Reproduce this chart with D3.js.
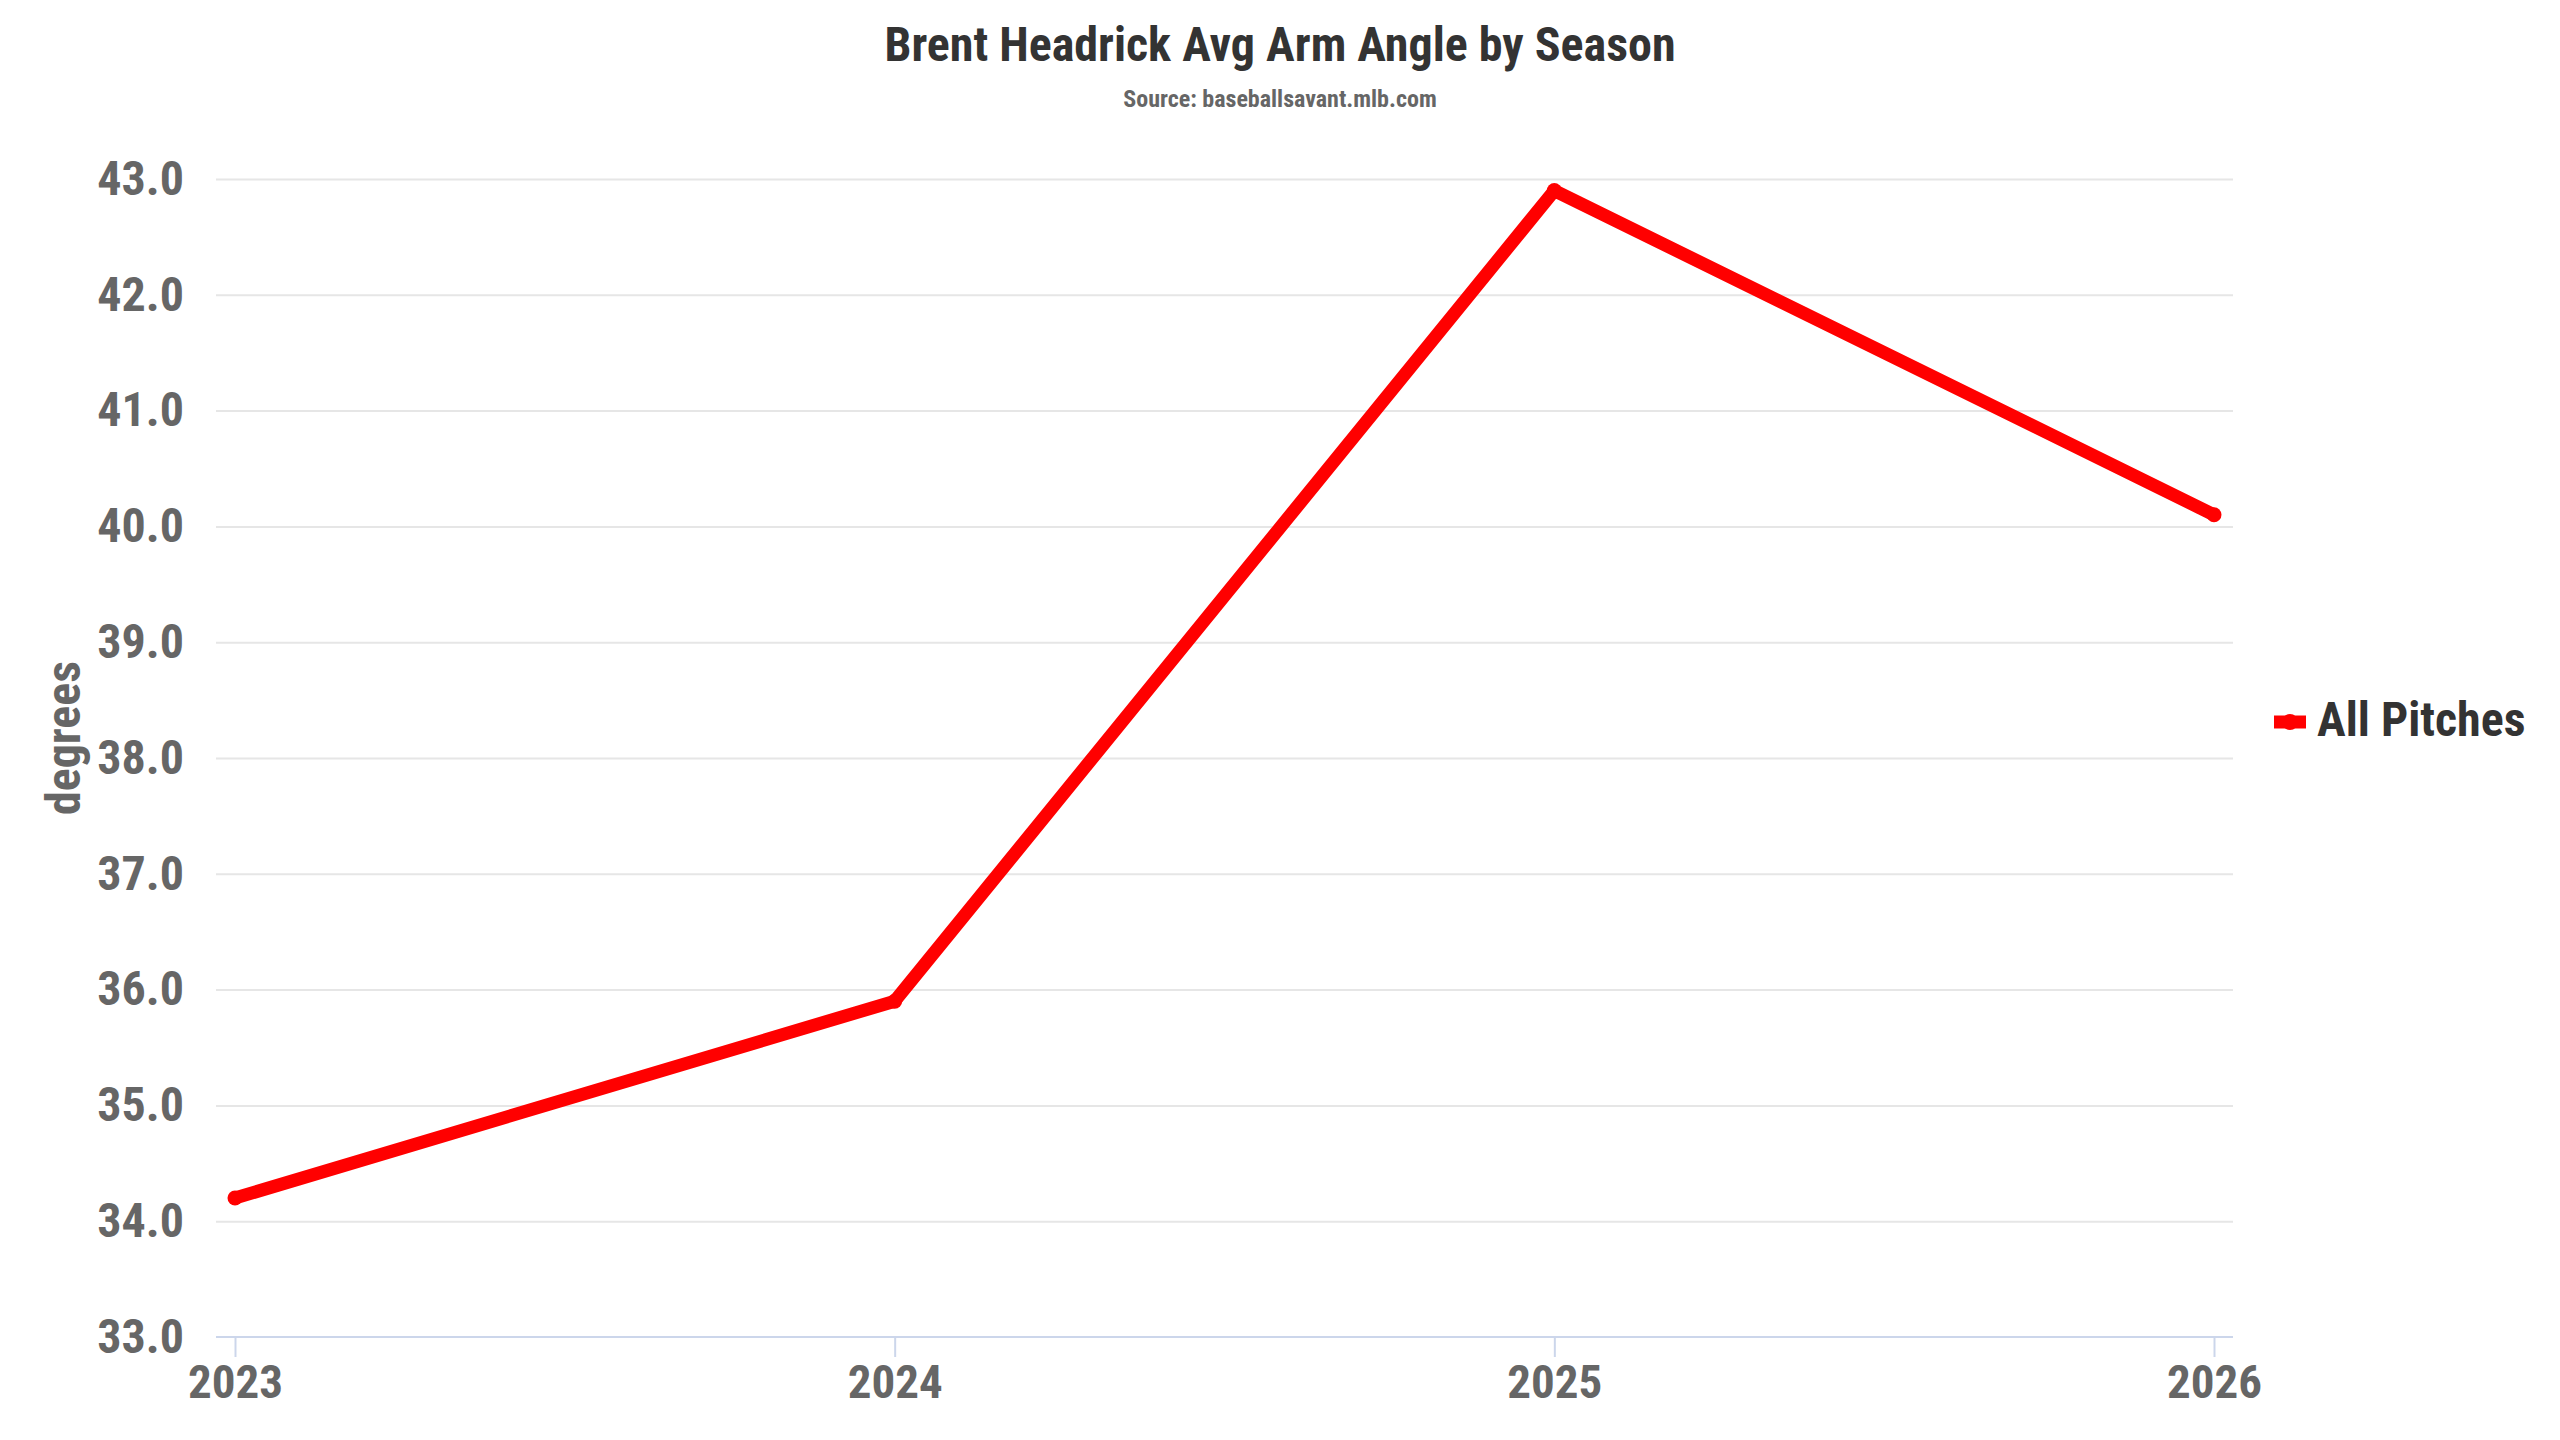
<!DOCTYPE html>
<html>
<head>
<meta charset="utf-8">
<script src="https://cdn.jsdelivr.net/npm/d3@7"></script>
<style>
  body { margin: 0; background: #fff; }
  svg text { font-family: "Roboto Condensed", "Roboto", sans-serif; font-stretch: condensed; font-weight: bold; }
</style>
</head>
<body>
<svg width="2560" height="1440"></svg>
<script>
var seasons = [2023, 2024, 2025, 2026];
var armAngle = [34.2, 35.9, 42.9, 40.1];
var yTicks = [33, 34, 35, 36, 37, 38, 39, 40, 41, 42, 43];
var seriesName = "All Pitches";

var svg = d3.select("svg"),
    plot = { left: 216, right: 2233, top: 179, bottom: 1337 },
    width = plot.right - plot.left;

var x = d3.scaleLinear()
    .domain([d3.min(seasons), d3.max(seasons)])
    .range([plot.left + 19, plot.right - 19]);
var y = d3.scaleLinear()
    .domain([d3.min(yTicks), d3.max(yTicks)])
    .range([plot.bottom, plot.top]);

// title
svg.append("text")
    .attr("x", 1280).attr("y", 61)
    .attr("text-anchor", "middle")
    .attr("fill", "#333")
    .style("font-size", "48px")
    .text("Brent Headrick Avg Arm Angle by Season");
svg.append("text")
    .attr("x", 1280).attr("y", 107)
    .attr("text-anchor", "middle")
    .attr("fill", "#666")
    .style("font-size", "24px")
    .text("Source: baseballsavant.mlb.com");

// y axis + grid
var yAxis = svg.append("g")
    .attr("transform", "translate(" + plot.left + ",0)")
    .call(d3.axisLeft(y).tickValues(yTicks).tickFormat(d3.format(".1f"))
        .tickSizeInner(-width).tickSizeOuter(0).tickPadding(32));
yAxis.select(".domain").remove();
yAxis.selectAll(".tick line")
    .attr("stroke", "#e6e6e6").attr("stroke-width", 2)
    .filter(function (d) { return d === d3.min(yTicks); }).remove();
yAxis.selectAll(".tick text")
    .attr("fill", "#666")
    .style("font-size", "48px");

svg.append("text")
    .attr("transform", "translate(80,738) rotate(-90)")
    .attr("text-anchor", "middle")
    .attr("fill", "#666")
    .style("font-size", "48px")
    .text("degrees");

// x axis
var xAxis = svg.append("g")
    .attr("transform", "translate(0," + plot.bottom + ")")
    .call(d3.axisBottom(x).tickValues(seasons).tickFormat(d3.format("d"))
        .tickSizeInner(20).tickSizeOuter(0).tickPadding(8));
xAxis.select(".domain")
    .attr("d", "M" + plot.left + ",0H" + plot.right)
    .attr("stroke", "#ccd6eb").attr("stroke-width", 2);
xAxis.selectAll(".tick line").attr("stroke", "#ccd6eb").attr("stroke-width", 2);
xAxis.selectAll(".tick text")
    .attr("fill", "#666")
    .style("font-size", "47px");

// series
var pts = seasons.map(function (s, i) { return [s, armAngle[i]]; });
var line = d3.line()
    .x(function (d) { return x(d[0]); })
    .y(function (d) { return y(d[1]); });
svg.append("path")
    .datum(pts)
    .attr("d", line)
    .attr("fill", "none")
    .attr("stroke", "#ff0000")
    .attr("stroke-width", 13)
    .attr("stroke-linejoin", "round")
    .attr("stroke-linecap", "round");
svg.selectAll(".pt")
    .data(pts).enter().append("circle")
    .attr("class", "pt")
    .attr("cx", function (d) { return x(d[0]); })
    .attr("cy", function (d) { return y(d[1]); })
    .attr("r", 7.5)
    .attr("fill", "#ff0000");

// legend
var lg = svg.append("g").attr("transform", "translate(2274,722)");
lg.append("line")
    .attr("x1", 0).attr("x2", 32)
    .attr("stroke", "#ff0000").attr("stroke-width", 13);
lg.append("circle").attr("cx", 16).attr("r", 8).attr("fill", "#ff0000");
lg.append("text")
    .attr("x", 43).attr("y", 14)
    .attr("fill", "#333")
    .style("font-size", "48px")
    .text(seriesName);
</script>
</body>
</html>
